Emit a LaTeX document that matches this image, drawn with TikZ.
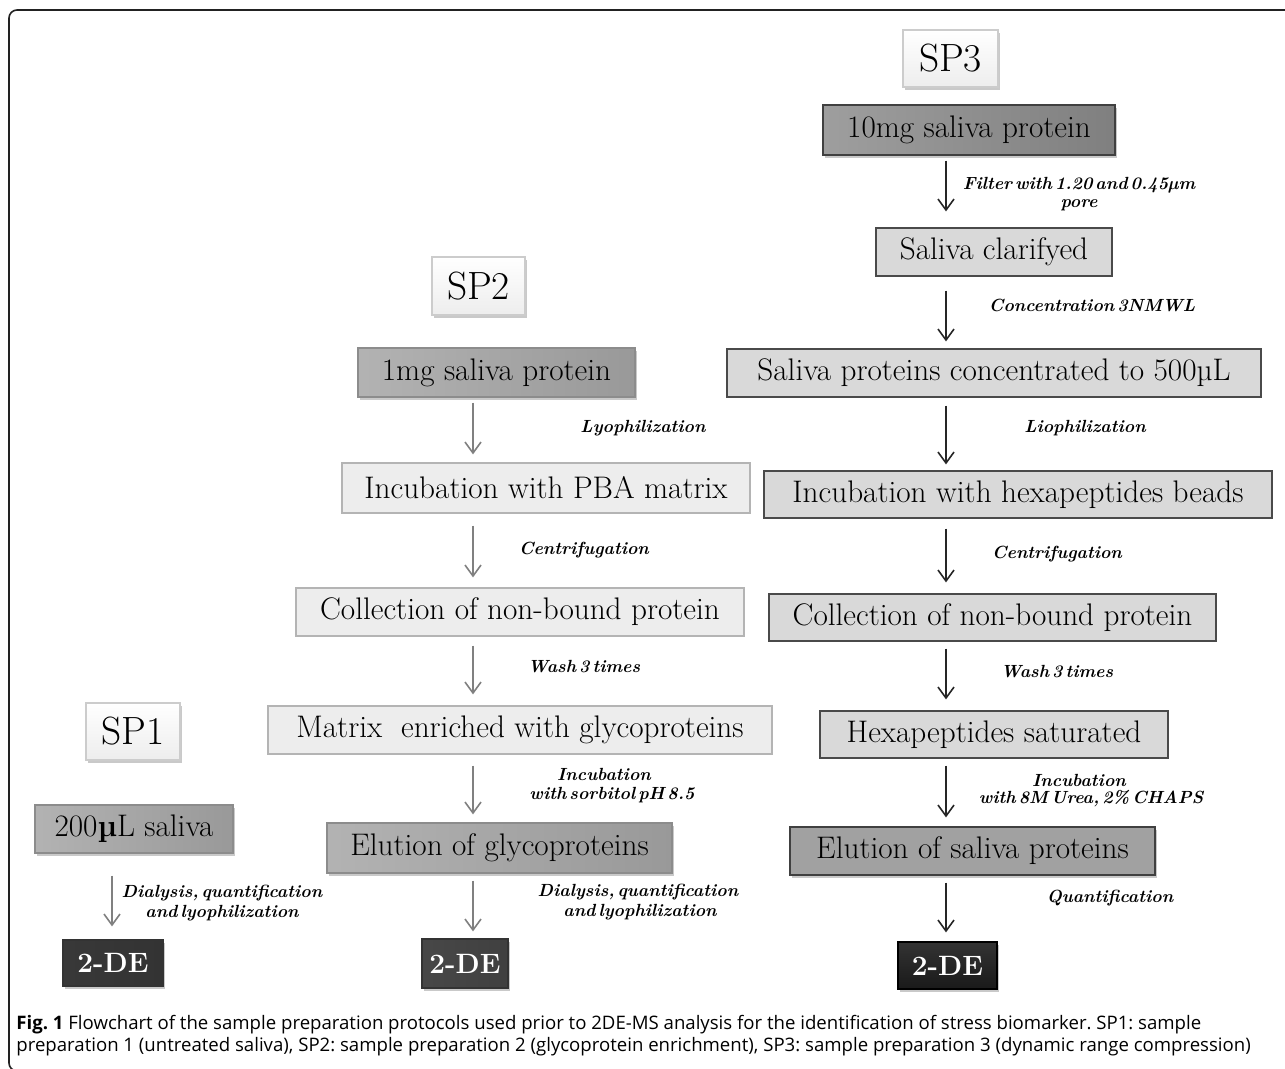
\documentclass[tikz,border=0pt]{standalone}
\usepackage{fontspec}
\newfontfamily\capfont{Open Sans}
\usetikzlibrary{arrows.meta,shadows,calc}
\definecolor{framec}{HTML}{222222}
\definecolor{darkb}{HTML}{4A4A4A}
\definecolor{lightb}{HTML}{B4B4B4}
\definecolor{fillA}{HTML}{D9D9D9}
\definecolor{fillB}{HTML}{EDEDED}
\newcommand\lblfont{\fontsize{8.8}{10}\selectfont\bfseries\itshape\spaceskip=0.17em\relax}
\begin{document}
\begin{tikzpicture}[x=0.5pt,y=-0.5pt,
  shad/.style={drop shadow={shadow xshift=1pt,shadow yshift=-1.3pt,opacity=0.3,fill=black!70}},
  box/.style={draw, line width=0.6pt, inner sep=0pt, minimum height=24pt,
    font=\fontsize{15.6}{17}\selectfont},
  splabel/.style={box, draw=black!20, top color=white, bottom color=black!7, shad,
    font=\fontsize{19.7}{21}\selectfont},
  stepdark/.style={box, draw=darkb, fill=fillA},
  steplight/.style={box, draw=lightb, fill=fillB},
  gradbox/.style={box, shad, left color=black!38, middle color=black!18, right color=black!50},
  gradlight/.style={box, shad, left color=black!30, middle color=black!12, right color=black!40},
  debox/.style={box, shad, text=white, font=\fontsize{14}{15}\selectfont\bfseries},
  lbl/.style={inner sep=0pt, font=\lblfont},
  arrd/.style={draw=black!85, line width=0.8pt, -{Straight Barb[length=5.5pt,width=8pt]}},
  arrl/.style={draw=black!50, line width=0.8pt, -{Straight Barb[length=5.5pt,width=8pt]}},
  capt/.style={inner sep=0pt, anchor=base west, font=\capfont\fontsize{9.3}{11}\selectfont\frenchspacing}
]
\useasboundingbox (0,0) rectangle (1285,1069);
% frame
\begin{scope}
\clip (0,0) rectangle (1285,1069);
\draw[framec, line width=0.8pt, rounded corners=4pt] (1300,10) -- (9,10) -- (9,1071) -- (1300,1071);
\end{scope}
\coordinate (x3) at (946,0);
\coordinate (x2) at (473,0);
\coordinate (x1) at (112,0);

% SP3 column
\node[splabel, minimum width=47.5pt, minimum height=28.5pt] (sp3) at (950.5,58.5) {SP3};
\node[gradbox, draw=black!75, minimum width=146pt, minimum height=25pt] (a1) at (969,130) {10mg saliva protein};
\node[stepdark, minimum width=118pt] (a2) at (994,252) {Saliva clarifyed};
\node[stepdark, minimum width=267pt] (a3) at (994,373) {Saliva proteins concentrated to 500µL};
\node[stepdark, minimum width=254pt, minimum height=23.5pt] (a4) at (1018,494.5) {Incubation with hexapeptides beads};
\node[stepdark, minimum width=223.5pt, minimum height=23.5pt] (a5) at (992.5,617.5) {Collection of non-bound protein};
\node[stepdark, minimum width=174pt, minimum height=23.5pt] (a6) at (994,734.5) {Hexapeptides saturated};
\node[box, shad, draw=black!75, fill=black!37, minimum width=182.5pt] (a7) at (972.5,851) {Elution of saliva proteins};
\node[debox, draw=black, top color=black!80, bottom color=black!90, minimum width=49.5pt, minimum height=23.5pt] (a8) at (947.5,965.5) {2-DE};

\draw[arrd] ([yshift=-2.5pt]a1.south -| x3) -- ([yshift=8pt]a2.north -| x3);
\draw[arrd] ([yshift=-7pt]a2.south -| x3) -- ([yshift=3.5pt]a3.north -| x3);
\draw[arrd] ([yshift=-4pt]a3.south -| x3) -- ([yshift=3pt]a4.north -| x3);
\draw[arrd] ([yshift=-5pt]a4.south -| x3) -- ([yshift=5.5pt]a5.north -| x3);
\draw[arrd] ([yshift=-3.5pt]a5.south -| x3) -- ([yshift=5.5pt]a6.north -| x3);
\draw[arrd] ([yshift=-3.5pt]a6.south -| x3) -- ([yshift=4.5pt]a7.north -| x3);
\draw[arrd] ([yshift=-3.5pt]a7.south -| x3) -- ([yshift=4.5pt]a8.north -| x3);

\node[lbl] (l31a) at (1079,185) {Filter with 1.20 and 0.45µm};
\node[lbl] (l31b) at (1079,205) {pore};
\node[lbl] (l32) at (1092,305) {Concentration 3NMWL};
\node[lbl] (l33) at (1085,428) {Liophilization};
\node[lbl] (l34) at (1057,554) {Centrifugation};
\node[lbl] (l35) at (1057,672) {Wash 3 times};
\node[lbl] (l36a) at (1079,780) {Incubation};
\node[lbl] (l36b) at (1091,799) {with 8M Urea, 2\% CHAPS};
\node[lbl] (l37) at (1110,898) {Quantification};

% SP2 column
\node[splabel, minimum width=46.5pt, minimum height=29pt] (sp2) at (478.5,286) {SP2};
\node[gradlight, draw=black!45, minimum width=138.5pt, minimum height=24.5pt] (b1) at (496.5,372.5) {1mg saliva protein};
\node[steplight, minimum width=204pt, minimum height=25pt] (b2) at (546,488) {Incubation with PBA matrix};
\node[steplight, minimum width=224pt] (b3) at (520,612) {Collection of non-bound protein};
\node[steplight, minimum width=252pt] (b4) at (520,730) {Matrix\ \ enriched with glycoproteins};
\node[gradlight, draw=black!45, minimum width=172.5pt, minimum height=25pt] (b5) at (499.5,848) {Elution of glycoproteins};
\node[debox, draw=black!80, left color=black!72, middle color=black!62, right color=black!75, minimum width=43pt, minimum height=24.5pt] (b6) at (465,963.5) {2-DE};

\draw[arrl] ([yshift=-2.5pt]b1.south -| x2) -- ([yshift=4pt]b2.north -| x2);
\draw[arrl] ([yshift=-6pt]b2.south -| x2) -- ([yshift=5pt]b3.north -| x2);
\draw[arrl] ([yshift=-4.5pt]b3.south -| x2) -- ([yshift=5.5pt]b4.north -| x2);
\draw[arrl] ([yshift=-5.5pt]b4.south -| x2) -- ([yshift=4pt]b5.north -| x2);
\draw[arrl] ([yshift=-3.5pt]b5.south -| x2) -- ([yshift=3.5pt]b6.north -| x2);

\node[lbl] (l21) at (643,428) {Lyophilization};
\node[lbl] (l22) at (584,550) {Centrifugation};
\node[lbl] (l23) at (584,667) {Wash 3 times};
\node[lbl] (l24a) at (604,774) {Incubation};
\node[lbl] (l24b) at (612,795) {with sorbitol pH 8.5};
\node[lbl] (l25a) at (638,892) {Dialysis, quantification};
\node[lbl] (l25b) at (640,912) {and lyophilization};

% SP1 column
\node[splabel, minimum width=47pt, minimum height=28.5pt] (sp1) at (133,731.5) {SP1};
\node[gradlight, draw=black!45, minimum width=99pt] (c1) at (134,829) {200\textbf{µ}L saliva};
\node[debox, draw=black!80, left color=black!78, middle color=black!68, right color=black!80, minimum width=50pt, minimum height=23pt] (c2) at (113,963) {2-DE};

\draw[arrl] ([yshift=-11pt]c1.south -| x1) -- ([yshift=6.5pt]c2.north -| x1);

\node[lbl] (l11a) at (222,893) {Dialysis, quantification};
\node[lbl] (l11b) at (222,913) {and lyophilization};

% caption
\node[capt] (cap1) at (16,1029) {\textbf{Fig. 1} Flowchart of the sample preparation protocols used prior to 2DE-MS analysis for the identification of stress biomarker. SP1: sample};
\node[capt] (cap2) at (16,1051) {preparation 1 (untreated saliva), SP2: sample preparation 2 (glycoprotein enrichment), SP3: sample preparation 3 (dynamic range compression)};
\end{tikzpicture}
\end{document}
